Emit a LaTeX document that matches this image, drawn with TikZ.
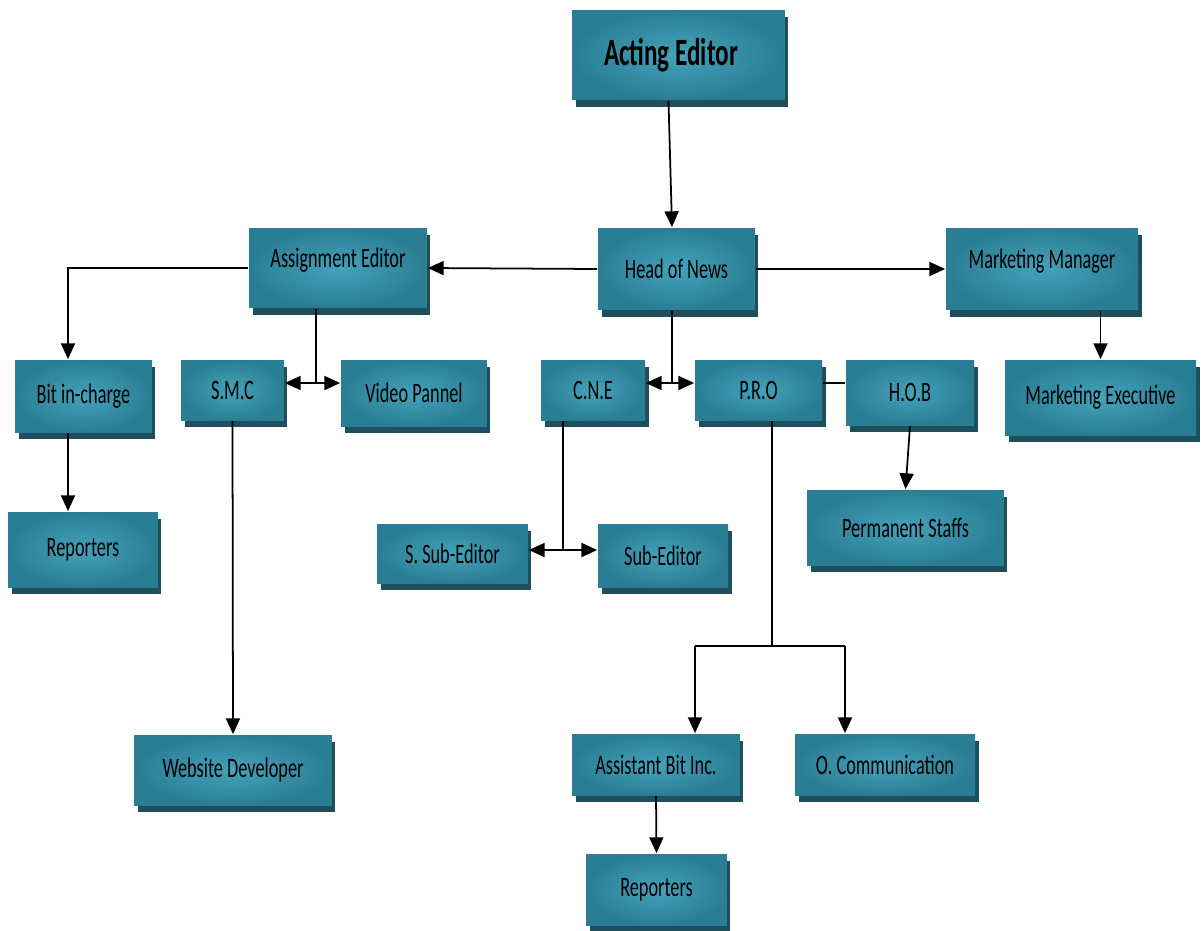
\documentclass[tikz,border=0pt]{standalone}
\usepackage{fontspec}
\setmainfont{Carlito}[FakeStretch=0.65]
\usepackage{tikz}
\usetikzlibrary{arrows.meta,shadows,calc}
\definecolor{tealdark}{RGB}{42,126,148}
\definecolor{teallight}{RGB}{68,162,186}
\definecolor{tealshadow}{RGB}{31,78,92}

\begin{document}
\begin{tikzpicture}[x=0.02cm,y=-0.02cm]
\fill[white] (0,0) rectangle (1202,930);
\useasboundingbox (0,0) rectangle (1202,930);
                \begin{scope}[>={Triangle[length=9pt,width=8pt]},line width=1pt,
                  org node/.style={rectangle,inner color=teallight,outer color=tealdark,
                    drop shadow={shadow xshift=0.07cm,shadow yshift=-0.14cm,fill=tealshadow,opacity=1},
                    font=\fontsize{16}{19}\selectfont,text=black,inner sep=0pt}]
                % top levels
                \node[org node,minimum width=4.26cm,minimum height=1.8cm,font=\bfseries\fontsize{22}{26}\selectfont] (acting) at (678.5,55) {Acting Editor\hspace*{0.3cm}};
                \node[org node,minimum width=3.14cm,minimum height=1.64cm] (head) at (676.5,269) {Head of News};
                \node[org node,minimum width=3.56cm,minimum height=1.6cm,text depth=0.4cm] (assign) at (338,268) {Assignment Editor};
                \node[org node,minimum width=3.84cm,minimum height=1.64cm,text depth=0.4cm] (market) at (1042,269) {Marketing Manager};
                % second row
                \node[org node,minimum width=2.74cm,minimum height=1.44cm] (bit) at (83.5,396) {Bit in-charge};
                \node[org node,minimum width=2.06cm,minimum height=1.2cm] (smc) at (232.5,390) {S.M.C};
                \node[org node,minimum width=2.92cm,minimum height=1.32cm] (video) at (414,393) {Video Pannel};
                \node[org node,minimum width=2.08cm,minimum height=1.2cm] (cne) at (593,390) {C.N.E};
                \node[org node,minimum width=2.54cm,minimum height=1.2cm] (pro) at (758.5,390) {P.R.O};
                \node[org node,minimum width=2.56cm,minimum height=1.3cm] (hob) at (910,392.5) {H.O.B};
                \node[org node,minimum width=3.82cm,minimum height=1.5cm] (mexec) at (1100.5,397.5) {Marketing Executive};
                % lower rows
                \node[org node,minimum width=3.0cm,minimum height=1.5cm] (rep1) at (83,549.5) {Reporters};
                \node[org node,minimum width=3.02cm,minimum height=1.18cm] (ssub) at (452.5,553.5) {S. Sub-Editor};
                \node[org node,minimum width=2.6cm,minimum height=1.26cm] (sub) at (663,555.5) {Sub-Editor};
                \node[org node,minimum width=3.94cm,minimum height=1.5cm] (perm) at (905.5,527.5) {Permanent Staffs};
                \node[org node,minimum width=3.96cm,minimum height=1.4cm] (web) at (233,770) {Website Developer};
                \node[org node,minimum width=3.36cm,minimum height=1.22cm] (asst) at (656,764.5) {Assistant Bit Inc.};
                \node[org node,minimum width=3.6cm,minimum height=1.22cm] (ocomm) at (885,764.5) {O. Communication};
                \node[org node,minimum width=2.82cm,minimum height=1.42cm] (rep2) at (656.5,889.5) {Reporters};
                % junctions
                \coordinate (jA) at (316,383);
                \coordinate (jB) at (672,383);
                \coordinate (jC) at (563,550);
                \coordinate (jD) at (772,646);
                \coordinate (jE) at (695,646);
                \coordinate (jF) at (845,646);
                \coordinate (jG) at (68,268);
                % connectors
                \path[->]
                ([xshift=-0.2cm]acting.south) edge ([xshift=-0.09cm]head.north)
                (head.west) edge (assign.east)
                (head.east) edge (market.west)
                (market.south -| mexec.north) edge (mexec.north)
                (bit.south -| jG) edge (rep1.north -| jG)
                (smc.south) edge (web.north)
                (hob.south) edge (perm.north)
                (asst.south) edge (rep2.north)
                (jE) edge (asst.north -| jE)
                (jF) edge (ocomm.north -| jF);
                \draw[->] (assign.west) -- (jG) -- (bit.north -| jG);
                \draw (assign.south -| jA) -- (jA);
                \draw (head.south -| jB) -- (jB);
                \draw (cne.south -| jC) -- (jC);
                \draw (pro.south -| jD) -- (jD);
                \draw (jE) -- (jF);
                \draw (pro.east |- jB) -- (hob.west |- jB);
                \path[<->]
                (smc.east |- jA) edge (video.west |- jA)
                (cne.east |- jB) edge (pro.west |- jB)
                (ssub.east |- jC) edge (sub.west |- jC);
                \end{scope}
\end{tikzpicture}
\end{document}
